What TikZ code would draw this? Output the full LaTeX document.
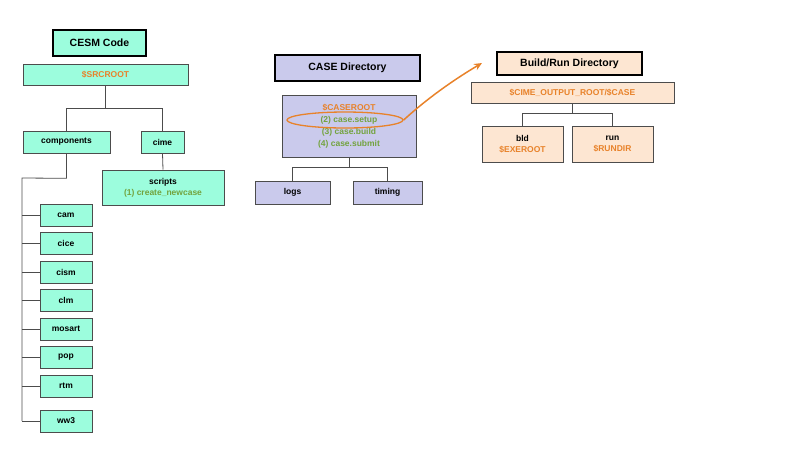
\documentclass[tikz,border=0pt]{standalone}
\usepackage{fontspec}
\setmainfont{Liberation Sans}
\usetikzlibrary{shapes.geometric,arrows.meta}
\begin{document}
\begin{tikzpicture}[x=1pt,y=-1pt,
  every node/.style={font=\bfseries\fontsize{8.5}{10}\selectfont, inner sep=0pt, align=center},
  aq/.style={draw=black!70, fill=aqua, line width=0.6pt},
  lv/.style={draw=black!70, fill=lav, line width=0.6pt},
  pc/.style={draw=black!70, fill=peach, line width=0.6pt},
  title/.style={draw=black, line width=2pt, font=\bfseries\fontsize{10.5}{12}\selectfont},
  ln/.style={draw=black!70, line width=0.8pt}]
\definecolor{aqua}{HTML}{9CFDDD}
\definecolor{lav}{HTML}{CACAEC}
\definecolor{peach}{HTML}{FDE6D2}
\definecolor{org}{HTML}{E8822A}
\definecolor{grn}{HTML}{73A33E}
\useasboundingbox (0,0) rectangle (800,451);
% CESM
\node[title, fill=aqua, minimum width=93, minimum height=26] (cesm) at (99.5,43) {CESM Code};
\node[aq, minimum width=165, minimum height=21, text=org] (src) at (105.5,74.5) {\$SRCROOT};
\node[aq, minimum width=87, minimum height=22] (comp) at (66.5,142) {components};
\node[aq, minimum width=43, minimum height=22] (cime) at (162.5,142) {cime};
\node[aq, minimum width=122, minimum height=35] (scr) at (163,187.5) {scripts\\[1pt]\textcolor{grn}{(1) create\_newcase}};
\foreach \n/\y in {cam/215,cice/243.5,cism/272,clm/300.5,mosart/329,pop/357.5,rtm/386,ww3/421}
  \node[aq, minimum width=52, minimum height=22] (\n) at (66,\y) {\n};
\draw[ln] (src.south) -- ++(0,23) coordinate (s1);
\draw[ln] (comp.north) |- (s1) -| (cime.north);
\draw[ln] (cime.south) -- (scr.north);
\draw[ln] (comp.south) -- ++(0,25) coordinate (c1) -- (22,178) coordinate (c2) -- (22,421) coordinate (c3);
\foreach \n/\y in {cam/215,cice/243.5,cism/272,clm/300.5,mosart/329,pop/357.5,rtm/386,ww3/421}
  \draw[ln] (22,\y) coordinate (t\n) -- (\n.west);
% CASE
\node[title, fill=lav, minimum width=145, minimum height=26] (cased) at (347.5,68) {CASE Directory};
\node[lv, minimum width=134, minimum height=62] (caser) at (349,126) {\textcolor{org}{\$CASEROOT}\\[2pt]\textcolor{grn}{(2) case.setup}\\[2pt]\textcolor{grn}{(3) case.build}\\[2pt]\textcolor{grn}{(4) case.submit}};
\node[lv, minimum width=75, minimum height=23] (logs) at (292.5,192.5) {logs};
\node[lv, minimum width=69, minimum height=23] (tim) at (387.5,192.5) {timing};
\draw[ln] (caser.south) -- ++(0,10) coordinate (k1);
\draw[ln] (logs.north) |- (k1) -| (tim.north);
% Build/Run
\node[title, fill=peach, minimum width=145, minimum height=23] (brd) at (569.5,63.5) {Build/Run Directory};
\node[pc, minimum width=203, minimum height=21, text=org] (cor) at (572.5,92.5) {\$CIME\_OUTPUT\_ROOT/\$CASE};
\node[pc, minimum width=81, minimum height=36] (bld) at (522.5,144) {bld\\[1pt]\textcolor{org}{\$EXEROOT}};
\node[pc, minimum width=81, minimum height=36] (run) at (612.5,144) {run\\[1pt]\textcolor{org}{\$RUNDIR}};
\draw[ln] (cor.south) -- ++(0,10) coordinate (b1);
\draw[ln] (bld.north) |- (b1) -| (run.north);
% highlight
\node[draw=org, line width=1.3pt, ellipse, minimum width=116, minimum height=16] (ell) at (345,120) {};
\draw[org, line width=1.5pt, -{Stealth[length=8pt,width=7pt]}] (ell.east) .. controls (420,105) and (445,85) .. (482,63);
\end{tikzpicture}
\end{document}
